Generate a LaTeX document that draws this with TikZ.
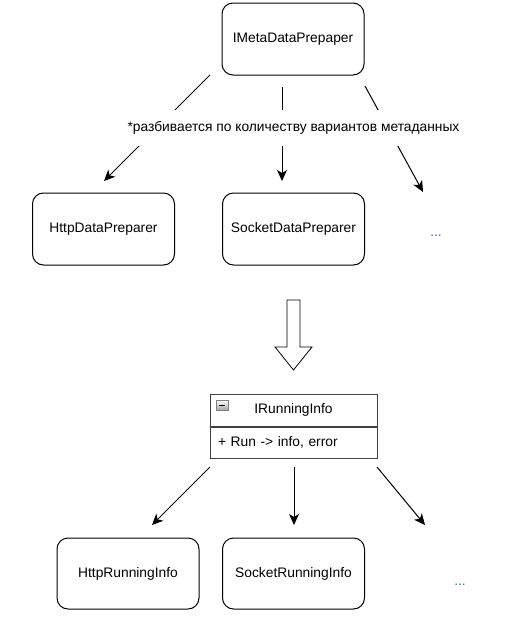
\documentclass[tikz,border=0pt]{standalone}
\usepackage{fontspec}
\setmainfont{Liberation Sans}
\usepackage{tikz}
\usetikzlibrary{arrows.meta}
\definecolor{dotsblue}{RGB}{30,110,210}
\tikzset{
    roundbox/.style={draw, rounded corners=11pt, minimum width=142pt, minimum height=72pt, inner sep=0pt, line width=1pt},
    pointer/.style={line width=1pt, -{Stealth[length=11pt, width=10pt, inset=3pt]}},
    classpart/.style={draw=black!75, minimum width=167pt, inner sep=0pt, line width=1pt},
    moredots/.style={text=dotsblue, inner sep=0pt}
}

\begin{document}
\begin{tikzpicture}[x=1pt, y=-1pt, font=\fontsize{13.8}{16}\selectfont]
        \useasboundingbox (0,0) rectangle (509,629);
        \pgfmathsetmacro{\colone}{103.5}
        \pgfmathsetmacro{\coltwo}{293.5}
        \node [roundbox] (meta) at (293, 39) {IMetaDataPrepaper};
        \node [roundbox] (httpprep) at (\colone, 229) {HttpDataPreparer};
        \node [roundbox] (socketprep) at (\coltwo, 229) {SocketDataPreparer};
        \node [moredots] (moreprep) at (436, 236) {...};
        \coordinate (meta1) at (210, 75);
        \coordinate (meta2) at (282, 87);
        \coordinate (meta3) at (365, 86);
        \coordinate (prep1) at (104, 181);
        \coordinate (prep2) at (282, 181);
        \coordinate (prep3) at (423, 192);
        \foreach \a/\b in {meta1/prep1, meta2/prep2, meta3/prep3}{
                \draw [pointer] (\a) -- (\b);
            }
        \node [fill=white, minimum height=36pt, inner xsep=0pt] (split) at (293.5, 128) {*разбивается по количеству вариантов метаданных};
        \draw [line width=0.8pt, fill=white] (287, 300) -- (300, 300) -- (300, 347) -- (312, 347) -- (293.5, 370) -- (275, 347) -- (287, 347) -- cycle;
        \node [classpart, minimum height=32pt, fill=white] (running) at (293.5, 410) {IRunningInfo};
        \node [classpart, minimum height=31pt, text width=151pt, inner xsep=8pt, align=left, anchor=north] (members) at (running.south) {+ Run -> info, error};
        \shade [top color=white, bottom color=gray!70, draw=gray] (216, 400) rectangle (228, 410);
        \draw [line width=1pt] (219, 405) -- (225, 405);
        \node [roundbox, minimum height=71pt] (httprun) at (128, 573.5) {HttpRunningInfo};
        \node [roundbox, minimum height=71pt] (socketrun) at (\coltwo, 573.5) {SocketRunningInfo};
        \node [moredots] (morerun) at (460, 585) {...};
        \coordinate (run1) at (210, 467);
        \coordinate (run2) at (294, 467);
        \coordinate (run3) at (377, 467);
        \coordinate (impl1) at (152, 525);
        \coordinate (impl2) at (294, 525);
        \coordinate (impl3) at (425, 525);
        \foreach \a/\b in {run1/impl1, run2/impl2, run3/impl3}{
                \draw [pointer] (\a) -- (\b);
            }
    \end{tikzpicture}
\end{document}
